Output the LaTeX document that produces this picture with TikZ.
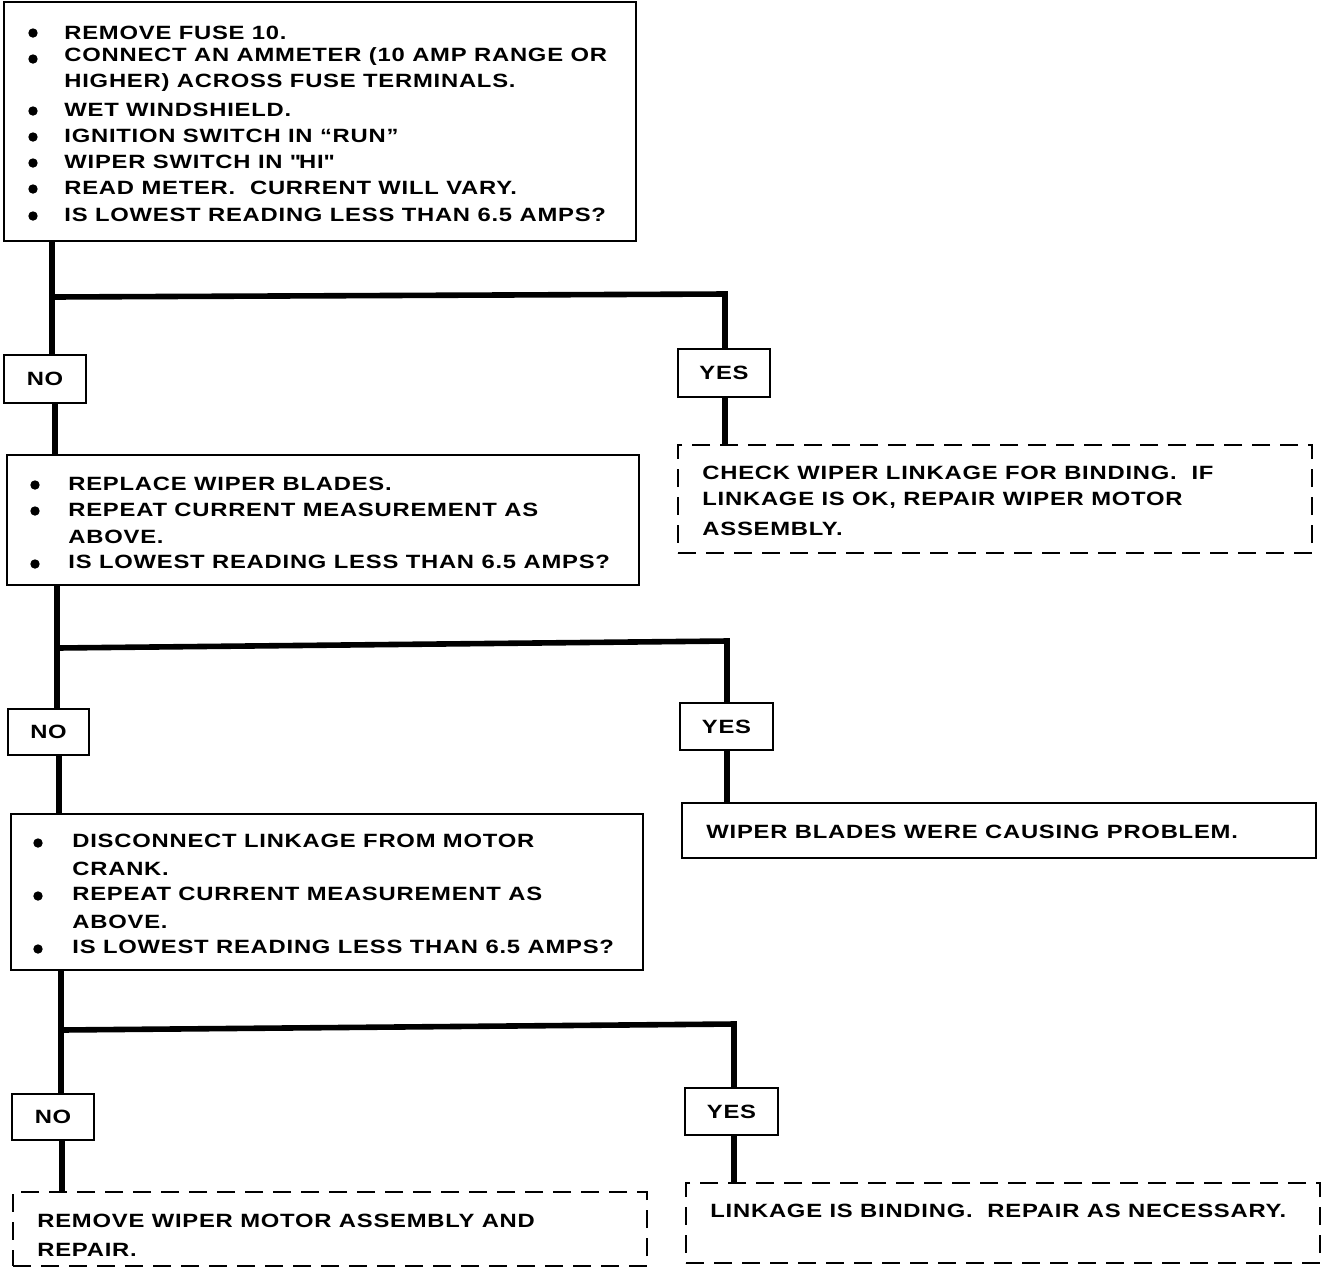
\documentclass[tikz,border=0pt]{standalone}
\usepackage{fontspec}
\setmainfont{Liberation Sans}[FakeStretch=1.24,LetterSpace=4]
\begin{document}
\begin{tikzpicture}[x=0.5pt,y=-0.5pt,
  box/.style={draw,line width=1.25pt,rectangle,inner sep=0pt,outer sep=0pt},
  dbox/.style={draw,line width=1.1pt,rectangle,inner sep=0pt,outer sep=0pt,dash pattern=on 9pt off 5pt},
  ans/.style={box,font=\fontsize{9.6}{11}\selectfont\bfseries},
  txt/.style={anchor=base west,inner sep=0pt,font=\fontsize{9.6}{11}\selectfont\bfseries},
  dot/.style={circle,fill,inner sep=0pt,minimum width=4.3pt,minimum height=4.7pt},
  conn/.style={line width=2.8pt}]
\useasboundingbox[fill=white] (0,0) rectangle (1328,1276);

% ---------- boxes ----------
\node[box,minimum width=316pt,minimum height=119.5pt] (box1) at (320,121.5) {};
\node[ans,minimum width=41pt,minimum height=24pt] (no1) at (45,379) {NO};
\node[ans,minimum width=46pt,minimum height=24pt] (yes1) at (724,373) {YES};
\node[dbox,minimum width=317pt,minimum height=54pt] (chk) at (995,499) {};
\node[box,minimum width=316pt,minimum height=65pt] (box2) at (323,520) {};
\node[ans,minimum width=40.5pt,minimum height=23pt] (no2) at (48.5,732) {NO};
\node[ans,minimum width=46.5pt,minimum height=23.5pt] (yes2) at (726.5,726.5) {YES};
\node[box,minimum width=316pt,minimum height=78pt] (box3) at (327,892) {};
\node[box,minimum width=317pt,minimum height=27.5pt] (blades) at (999,830.5) {};
\node[ans,minimum width=41pt,minimum height=23pt] (no3) at (53,1117) {NO};
\node[ans,minimum width=46.5pt,minimum height=23.5pt] (yes3) at (731.5,1111.5) {YES};
\node[dbox,minimum width=317pt,minimum height=37pt] (motor) at (330,1229) {};
\node[dbox,minimum width=317pt,minimum height=40pt] (bind) at (1003,1223) {};

% ---------- box 1 text ----------
\node[dot] (d11) at (33,33) {};
\node[txt] (t11) at (64,39) {REMOVE FUSE 10.};
\node[dot] (d12) at (33,59) {};
\node[txt] (t12) at (64,61) {CONNECT AN AMMETER (10 AMP RANGE OR};
\node[txt] (t13) at (64,87) {HIGHER) ACROSS FUSE TERMINALS.};
\node[dot] (d14) at (33,111) {};
\node[txt] (t14) at (64,116) {WET WINDSHIELD.};
\node[dot] (d15) at (33,137) {};
\node[txt] (t15) at (64,142) {IGNITION SWITCH IN “RUN”};
\node[dot] (d16) at (33,163) {};
\node[txt] (t16) at (64,168) {WIPER SWITCH IN \textquotedbl HI\textquotedbl};
\node[dot] (d17) at (33,189) {};
\node[txt] (t17) at (64,194) {READ METER.\ \ CURRENT WILL VARY.};
\node[dot] (d18) at (33,216) {};
\node[txt] (t18) at (64,221) {IS LOWEST READING LESS THAN 6.5 AMPS?};

% ---------- box 2 text ----------
\node[dot] (d21) at (35,485) {};
\node[txt] (t21) at (68,490) {REPLACE WIPER BLADES.};
\node[dot] (d22) at (35,511) {};
\node[txt] (t22) at (68,516) {REPEAT CURRENT MEASUREMENT AS};
\node[txt] (t23) at (68,543) {ABOVE.};
\node[dot] (d24) at (35,564) {};
\node[txt] (t24) at (68,568) {IS LOWEST READING LESS THAN 6.5 AMPS?};

% ---------- box 3 text ----------
\node[dot] (d31) at (38,843) {};
\node[txt] (t31) at (72,847) {DISCONNECT LINKAGE FROM MOTOR};
\node[txt] (t32) at (72,875) {CRANK.};
\node[dot] (d33) at (38,896) {};
\node[txt] (t33) at (72,900) {REPEAT CURRENT MEASUREMENT AS};
\node[txt] (t34) at (72,928) {ABOVE.};
\node[dot] (d35) at (38,949) {};
\node[txt] (t35) at (72,953) {IS LOWEST READING LESS THAN 6.5 AMPS?};

% ---------- result texts ----------
\node[txt] (c1) at (702,479) {CHECK WIPER LINKAGE FOR BINDING.\ \ IF};
\node[txt] (c2) at (702,505) {LINKAGE IS OK, REPAIR WIPER MOTOR};
\node[txt] (c3) at (702,535) {ASSEMBLY.};
\node[txt] (w1) at (706,838) {WIPER BLADES WERE CAUSING PROBLEM.};
\node[txt] (m1) at (37,1227) {REMOVE WIPER MOTOR ASSEMBLY AND};
\node[txt] (m2) at (37,1256) {REPAIR.};
\node[txt] (l1) at (710,1217) {LINKAGE IS BINDING.\ \ REPAIR AS NECESSARY.};

% ---------- connectors ----------
\coordinate (j1a) at (52,297);
\coordinate (j1b) at (725,294);
\coordinate (k1) at (55,430);
\draw[conn] (box1.south -| j1a) -- (no1.north -| j1a);
\draw[conn] (j1a) -- (j1b) -- (yes1.north -| j1b);
\draw[conn] (no1.south -| k1) -- (box2.north -| k1);
\draw[conn] (yes1.south -| j1b) -- (chk.north -| j1b);

\coordinate (j2a) at (57,648);
\coordinate (j2b) at (727,641);
\coordinate (k2) at (59,785);
\draw[conn] (box2.south -| j2a) -- (no2.north -| j2a);
\draw[conn] (j2a) -- (j2b) -- (yes2.north -| j2b);
\draw[conn] (no2.south -| k2) -- (box3.north -| k2);
\draw[conn] (yes2.south -| j2b) -- (blades.north -| j2b);

\coordinate (j3a) at (61,1030);
\coordinate (j3b) at (734,1024);
\coordinate (k3) at (62,1165);
\draw[conn] (box3.south -| j3a) -- (no3.north -| j3a);
\draw[conn] (j3a) -- (j3b) -- (yes3.north -| j3b);
\draw[conn] (no3.south -| k3) -- (motor.north -| k3);
\draw[conn] (yes3.south -| j3b) -- (bind.north -| j3b);
\end{tikzpicture}
\end{document}
